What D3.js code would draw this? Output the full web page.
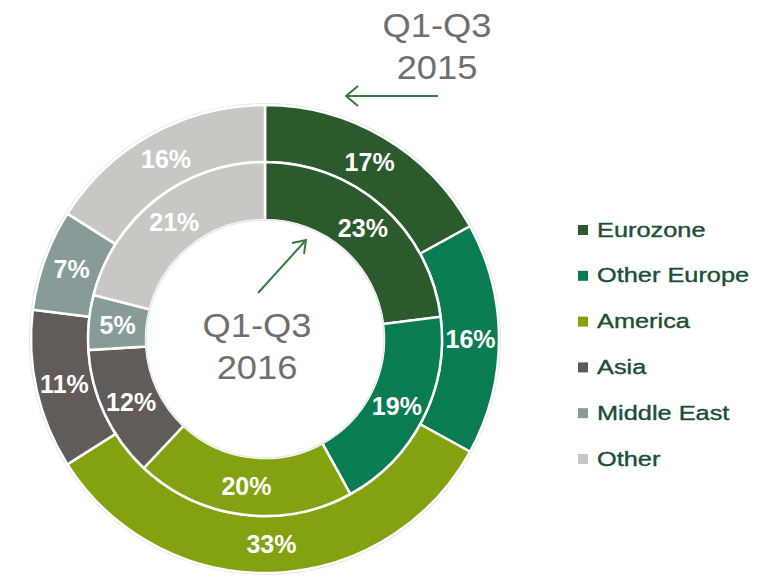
<!DOCTYPE html>
<html><head><meta charset="utf-8">
<script src="https://cdn.jsdelivr.net/npm/d3@7"></script>
<style>body{margin:0;background:#fff}svg{display:block}</style>
</head><body>
<svg id="c" width="769" height="577"></svg>
<script>
const categories = ["Eurozone","Other Europe","America","Asia","Middle East","Other"];
const values2015 = [17,16,33,11,7,16];
const values2016 = [23,19,20,12,5,21];
const colors = ["#2b5b2c","#0a7c52","#82a30f","#625c58","#879b99","#c9c7c3"];

const svg = d3.select("#c");
const cx = 265, cy = 339;
const g = svg.append("g").attr("transform",`translate(${cx},${cy})`);
const pie = d3.pie().sort(null).value(d=>d.v);
const color = d3.scaleOrdinal().domain(categories).range(colors);

function ring(vals, r0, r1){
  const data = pie(vals.map((v,i)=>({c:categories[i],v})));
  const arc = d3.arc().innerRadius(r0).outerRadius(r1);
  const gg = g.append("g");
  gg.selectAll("path").data(data).join("path")
    .attr("d",arc).attr("fill",d=>color(d.data.c))
    .attr("stroke","#fff").attr("stroke-width",2.5);
  const la = d3.arc().innerRadius((r0+r1)/2).outerRadius((r0+r1)/2);
  gg.selectAll("text").data(data).join("text")
    .attr("transform",d=>`translate(${la.centroid(d)})`)
    .attr("text-anchor","middle").attr("dy","0.36em")
    .attr("font-family","Liberation Sans, Arial, sans-serif")
    .attr("font-weight","bold").attr("font-size",25).attr("fill","#fff")
    .text(d=>d.data.v+"%");
}
g.append("circle").attr("r",235).attr("fill","none").attr("stroke","#e4e4e4").attr("stroke-width",2);
ring(values2015,177,234);
ring(values2016,119,177);
g.append("circle").attr("r",119).attr("fill","none").attr("stroke","#e8e8e8").attr("stroke-width",1.5);

function title(lines,x,y0){
  const t = svg.append("text").attr("font-family","Liberation Sans, Arial, sans-serif")
    .attr("font-size",33).attr("fill","#6f6f6f").attr("text-anchor","middle")
    .attr("transform",`translate(${x},${y0}) scale(1.1,1)`);
  lines.forEach((l,i)=>t.append("tspan").attr("x",0).attr("y",i*42).text(l));
}
title(["Q1-Q3","2015"],437,37);
title(["Q1-Q3","2016"],257,337);

const ac = "#3b7a3e";
svg.append("path").attr("d","M438,96 L346,96 M358,86 L346,96 L358,106")
  .attr("fill","none").attr("stroke",ac).attr("stroke-width",2);
svg.append("path").attr("d","M258,293 L306,240 M292,243 L306,240 L304,254")
  .attr("fill","none").attr("stroke",ac).attr("stroke-width",2);

const lg = svg.append("g").attr("transform","translate(578,225)");
const items = lg.selectAll("g").data(categories).join("g")
  .attr("transform",(d,i)=>`translate(0,${i*45.8})`);
items.append("rect").attr("width",10).attr("height",10).attr("fill",d=>color(d));
items.append("text").attr("transform","translate(19,11.5) scale(1.3,1)")
  .attr("font-family","Liberation Sans, Arial, sans-serif").attr("font-size",19.5)
  .attr("fill","#1b4f34").attr("stroke","#1b4f34").attr("stroke-width",0.35).text(d=>d);
</script>
</body></html>
